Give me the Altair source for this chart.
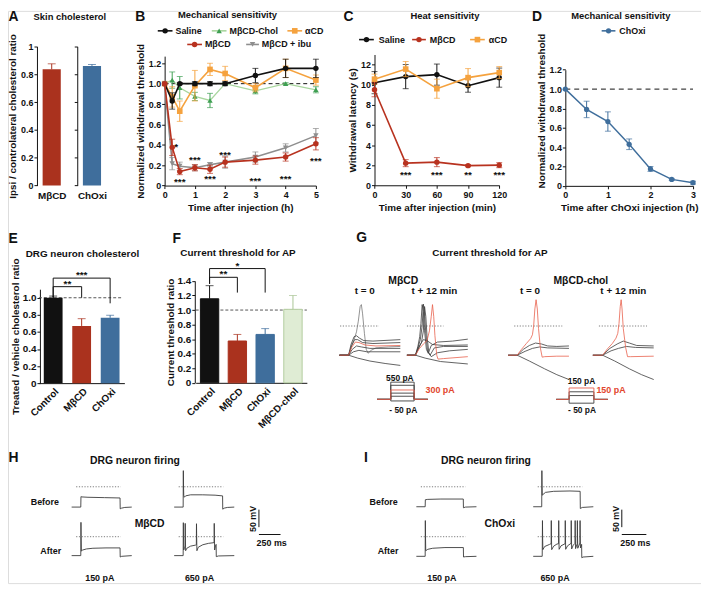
import altair as alt
import pandas as pd

FONT = "Liberation Sans"
W, H = 700, 578
K = "#111111"
RED = "#B8321F"
RED_BAR = "#AA321E"
BLUE = "#3F6E9C"
ORANGE = "#F5A23E"
GREEN = "#3E9F52"
GREEN_LINE = "#A8D69E"
GRAY = "#8E8E8E"
LG_FILL = "#DFECD4"
LG_STROKE = "#B2CC9E"
LG_ERR = "#A9C596"
TR = "#3A3A3A"
TR_GRAY = "#777777"
TR_RED = "#E8604C"
LBL_RED = "#E2462E"

# ---------------- values ----------------
# A  skin cholesterol
a_groups = ["MβCD", "ChOxi"]
a_mean = [0.835, 0.86]
a_err = [0.04, 0.01]

# B  mechanical sensitivity (h)
b_time = [0, 0.25, 0.5, 1, 1.5, 2, 3, 4, 5]
b_saline = [1.00, 0.83, 1.00, 1.00, 1.00, 1.00, 1.08, 1.15, 1.15]
b_saline_err = [0.00, 0.08, 0.01, 0.02, 0.02, 0.02, 0.07, 0.09, 0.09]
b_chol = [1.00, 1.035, 0.96, 0.875, 0.835, 1.00, 0.93, 1.00, 0.94]
b_chol_err = [0.00, 0.08, 0.11, 0.04, 0.07, 0.01, 0.03, 0.01, 0.03]
b_acd = [1.00, 0.87, 0.73, 0.98, 1.14, 1.10, 0.96, 1.15, 1.035]
b_acd_err = [0.00, 0.10, 0.10, 0.15, 0.06, 0.07, 0.04, 0.09, 0.05]
b_mbcd = [1.00, 0.375, 0.137, 0.175, 0.16, 0.23, 0.25, 0.28, 0.41]
b_mbcd_err = [0.00, 0.08, 0.03, 0.03, 0.04, 0.05, 0.04, 0.04, 0.06]
b_ibu = [1.00, 0.215, 0.19, 0.175, 0.205, 0.23, 0.28, 0.37, 0.49]
b_ibu_err = [0.00, 0.06, 0.04, 0.03, 0.02, 0.06, 0.05, 0.04, 0.07]
b_star_text = ["*", "***", "***", "***", "***", "***", "***", "***"]
b_star_x = [0.38, 0.5, 1.0, 1.5, 2.0, 3.0, 4.0, 5.0]
b_star_y = [0.41, 0.06, 0.28, 0.09, 0.33, 0.07, 0.09, 0.27]

# C  heat sensitivity (min)
c_time = [0, 30, 60, 90, 120]
c_saline = [10.2, 10.8, 11.0, 9.9, 10.7]
c_saline_err = [1.1, 1.2, 1.05, 0.65, 0.95]
c_mbcd = [9.5, 2.2, 2.3, 1.95, 2.0]
c_mbcd_err = [0.7, 0.35, 0.45, 0.1, 0.25]
c_acd = [10.55, 11.55, 9.6, 10.7, 11.2]
c_acd_err = [0.5, 0.75, 0.95, 0.9, 0.6]
c_star_text = ["***", "***", "**", "***"]
c_star_x = [30, 60, 90, 120]
c_star_y = [1.3, 1.3, 1.3, 1.3]

# D  ChOxi mechanical sensitivity
d_time = [0, 0.5, 1, 1.5, 2, 2.5, 3]
d_choxi = [1.0, 0.79, 0.665, 0.43, 0.175, 0.067, 0.033]
d_err = [0.0, 0.085, 0.1, 0.055, 0.025, 0.01, 0.015]

# E  DRG neuron cholesterol
e_groups = ["Control", "MβCD", "ChOxi"]
e_mean = [1.0, 0.67, 0.765]
e_err = [0.02, 0.085, 0.03]
e_sig = ["**", "***"]
e_sig_to = [1, 2]
e_sig_top = [1.13, 1.23]
e_sig_left = [1.0, 1.0]
e_sig_right = [1.0, 0.935]

# F  current threshold ratio
f_groups = ["Control", "MβCD", "ChOxi", "MβCD-chol"]
f_mean = [1.155, 0.575, 0.665, 1.01]
f_err = [0.18, 0.09, 0.08, 0.19]
f_sig = ["**", "*"]
f_sig_to = [1, 2]
f_sig_top = [1.45, 1.57]
f_sig_left = [1.36, 1.36]
f_sig_right = [1.24, 1.24]

# G  action potential traces (ms, mV)
g1_spike = [(0, -60), (15, -60), (19, -45), (24, -28), (28, -12), (31, 10), (34, 40), (36, 44), (38, 25),
            (41, -15), (44, -48), (47, -56), (52, -50), (60, -45), (80, -43), (100, -42)]
g1_b1 = [(0, -60), (15, -60), (19, -38), (24, -22), (28, -20), (33, -25), (40, -30), (55, -31), (100, -28)]
g1_b2 = [(0, -60), (15, -60), (20, -40), (25, -28), (30, -28), (38, -34), (55, -36), (100, -34)]
g1_red = [(0, -60), (15, -60), (20, -44), (26, -33), (32, -34), (42, -39), (60, -41), (100, -40)]
g1_b3 = [(0, -60), (15, -60), (21, -48), (28, -41), (36, -43), (50, -46), (100, -46)]
g1_b4 = [(0, -60), (15, -60), (23, -53), (32, -50), (45, -53), (100, -53)]
g1_hyp = [(0, -60), (15, -60), (30, -66), (50, -72), (75, -77), (100, -81)]

g2_s1 = [(0, -60), (14, -60), (18, -42), (21, -22), (23, 5), (25, 44), (27, 30), (29, -10), (32, -48),
         (35, -56), (40, -40), (50, -33), (75, -31), (100, -27)]
g2_s2 = [(0, -60), (14, -60), (18, -45), (22, -28), (25, 0), (27, 45), (29, 25), (31, -15), (34, -52),
         (38, -60), (45, -45), (60, -42), (100, -42)]
g2_s3 = [(0, -60), (14, -60), (19, -47), (24, -33), (27, -10), (29, 40), (31, 20), (33, -20), (36, -55),
         (40, -63), (50, -55), (70, -51), (100, -48)]
g2_b = [(0, -60), (14, -60), (20, -42), (27, -28), (33, -30), (42, -38), (60, -40), (100, -39)]
g2_hyp = [(0, -60), (14, -60), (30, -66), (55, -73), (100, -78)]
g2_red = [(0, -60), (14, -60), (20, -47), (27, -37), (33, -30), (37, -10), (40, 20), (42, 44), (44, 20),
          (46, -20), (49, -60), (51, -68), (60, -67), (100, -63)]

g3_b1 = [(0, -60), (15, -60), (25, -48), (35, -40), (45, -35), (55, -37), (65, -41), (80, -42), (100, -41)]
g3_b2 = [(0, -60), (15, -60), (28, -52), (40, -46), (52, -43), (65, -45), (100, -46)]
g3_hyp = [(0, -60), (15, -60), (35, -72), (60, -88), (80, -100), (100, -110)]
g3_red = [(0, -60), (15, -60), (22, -48), (30, -36), (37, -26), (40, -18), (42, 0), (44, 35), (46, 54),
          (48, 35), (50, -5), (53, -45), (56, -64), (60, -63), (80, -62), (100, -62)]

g4_b1 = [(0, -60), (16, -60), (28, -46), (40, -37), (50, -31), (60, -35), (72, -40), (100, -41)]
g4_b2 = [(0, -60), (16, -60), (30, -51), (42, -46), (55, -42), (70, -44), (100, -45)]
g4_hyp = [(0, -60), (16, -60), (36, -72), (60, -88), (80, -100), (100, -110)]
g4_red = [(0, -60), (16, -60), (24, -47), (32, -36), (38, -25), (41, -15), (43, 5), (45, 40), (46.5, 54),
          (48, 35), (50, -5), (54, -45), (57, -63), (62, -63), (100, -62)]

g_dotted = [(1, 65), (0, 60), (10, 89), (10, 89)]
g_mbcd_steps = [550, 450, 300, 200, 100, -50]
g_mbcd_red = 300
g_chol_steps = [150, 100, 50, -50]
g_chol_red = 150

# H / I  firing traces (ms, mV)
h_b150 = [(0, -58), (112, -58), (114, -28), (125, -29), (200, -30), (400, -31), (592, -32), (594, -63),
          (610, -61), (650, -59), (735, -58)]
h_b650 = [(0, -58), (110, -58), (111, 0), (112, 46), (114, 5), (117, -24), (123, -30), (140, -26), (200, -23),
          (350, -23), (500, -24), (592, -26), (594, -64), (612, -61), (650, -59), (735, -58)]
h_a150 = [(0, -54), (112, -54), (113, 0), (114, 41), (116, 0), (119, -41), (135, -38), (180, -35), (260, -33),
          (420, -32), (592, -32), (594, -58), (612, -56), (735, -54)]
h_a650 = [(0, -54), (110, -54), (111, 0), (112, 40), (114, 0), (117, -38), (126, -31), (133, -27), (134, 5),
          (135, 38), (137, 0), (140, -40), (155, -33), (200, -27), (262, -24), (271, -23), (272, 10), (273, 37),
          (275, 0), (278, -40), (295, -30), (350, -23), (420, -19), (488, -17), (489, 5), (490, 38), (492, 0),
          (495, -38), (505, -26), (513, -22), (515, -57), (540, -55), (735, -54)]
i_b150 = [(0, -57), (108, -57), (110, -37), (140, -36), (300, -35), (574, -35), (576, -60), (600, -58),
          (735, -57)]
i_b650 = [(0, -57), (104, -57), (105, 0), (106, 46), (108, 5), (111, -24), (120, -22), (150, -16), (250, -13),
          (450, -12), (574, -13), (576, -62), (600, -59), (735, -57)]
i_a150 = [(0, -56), (108, -56), (109, 0), (110, 46), (112, 0), (115, -40), (140, -36), (200, -33), (350, -31),
          (575, -31), (577, -58), (600, -57), (735, -56)]
i_a650 = [(0, -56), (110, -56), (112, 0), (113, 46), (115, 0), (118, -37), (140, -28), (200, -22), (219, -20),
          (221, 46), (223, 0), (226, -37), (250, -27), (290, -21), (310, -20), (312, 46), (314, 0), (317, -36),
          (340, -26), (390, -20), (392, 46), (394, 0), (397, -36), (420, -26), (463, -19), (465, 46), (467, 0),
          (470, -35), (490, -24), (511, -19), (513, 46), (515, 0), (518, -34), (538, -20), (540, 46), (542, 0),
          (545, -33), (571, -18), (573, 46), (575, 0), (578, -32), (592, -22), (594, -60), (610, -58),
          (735, -56)]
hi_dotted = (55, 600)
scalebar_mv = 50
scalebar_ms = 250


# ---------------- helpers ----------------
def X(p):
    return round((p - 2.5) * 0.992, 2)


def Y(p):
    return round((p - 3.5) * 0.983, 2)


def lin(domain, r0, r1):
    return alt.Scale(domain=domain, range=[r0, r1], nice=False, zero=False)


ONE = pd.DataFrame({"_": [0]})
AX = dict(grid=False, domainColor=K, tickColor=K, domainWidth=1, tickWidth=1, labelFont=FONT,
          labelFontWeight="bold", labelColor=K, titleFont=FONT, titleFontWeight="bold", titleColor=K,
          titleFontSize=10, labelOverlap=False, labelFlush=False)
DEC = "datum.value == 0 ? '0' : format(datum.value, '.1f')"
GFMT = "format(datum.value, '~g')"


def yaxis(xp, values, title=None, labels=True, size=9, fmt=DEC, tpad=3, title_yp=None):
    kw = dict(AX)
    kw.update(orient="left", offset=-X(xp), values=values, tickSize=3, labelFontSize=size, labelPadding=1,
              titlePadding=tpad, labels=labels, title=title)
    if fmt:
        kw["labelExpr"] = fmt
    if title_yp is not None:
        kw["titleY"] = Y(title_yp)
    return alt.Axis(**kw)


def xaxis(yp, values, title=None, size=9, fmt=None, angle=None, ticks=True, domain=True, lpad=2, tpad=3):
    kw = dict(AX)
    kw.update(orient="bottom", offset=Y(yp) - H, values=values, ticks=ticks, domain=domain,
              labelFontSize=size, labelPadding=lpad, titlePadding=tpad, title=title)
    kw["tickSize"] = 3 if ticks else 0
    if fmt:
        kw["labelExpr"] = fmt
    if angle is not None:
        kw.update(labelAngle=angle, labelAlign="right", labelBaseline="top")
    return alt.Axis(**kw)


def txt(s, xp, yp, size=9.5, color=K, align="center", baseline="middle", angle=None, weight="bold"):
    kw = dict(text=s, font=FONT, fontSize=size, fontWeight=weight, color=color, align=align, baseline=baseline)
    if angle is not None:
        kw["angle"] = angle
    return alt.Chart(ONE).mark_text(**kw).encode(x=alt.value(X(xp)), y=alt.value(Y(yp)))


def qx(f, s, a=None):
    return alt.X(f, type="quantitative", scale=s, axis=a)


def qy(f, s, a=None):
    return alt.Y(f, type="quantitative", scale=s, axis=a)


def series(xv, yv, ev, xs, ys, color, shape, line_color=None, size=30, lw=1.6, cap=6):
    df = pd.DataFrame({"x": xv, "y": yv, "e": ev})
    df["lo"] = df["y"] - df["e"]
    df["hi"] = df["y"] + df["e"]
    dfe = df[df["e"] > 0]
    out = [alt.Chart(df).mark_line(color=line_color or color, strokeWidth=lw).encode(x=qx("x", xs), y=qy("y", ys)),
           alt.Chart(dfe).mark_rule(color=color, strokeWidth=1).encode(x=qx("x", xs), y=qy("lo", ys), y2="hi:Q")]
    for f in ("lo", "hi"):
        out.append(alt.Chart(dfe).mark_tick(color=color, orient="horizontal", size=cap, thickness=1)
                   .encode(x=qx("x", xs), y=qy(f, ys)))
    out.append(alt.Chart(df).mark_point(filled=True, opacity=1, shape=shape, size=size, color=color)
               .encode(x=qx("x", xs), y=qy("y", ys)))
    return out


def hrule(x0, x1, yv, xs, ys, xa=None, ya=None, color=K, dash=(4, 3), width=1):
    df = pd.DataFrame({"x": [x0], "x2": [x1], "y": [yv]})
    return alt.Chart(df).mark_rule(color=color, strokeDash=list(dash), strokeWidth=width).encode(
        x=qx("x", xs, xa), x2="x2:Q", y=qy("y", ys, ya))


def stars(texts, xv, yv, xs, ys, size=10):
    df = pd.DataFrame({"t": texts, "x": xv, "y": yv})
    return alt.Chart(df).mark_text(font=FONT, fontWeight="bold", fontSize=size, color=K, dy=3).encode(
        x=qx("x", xs), y=qy("y", ys), text="t:N")


def bars(groups, means, errs, colors, xs, ys, xa, ya, strokes=None, errcolors=None, cap=8, half=0.33):
    out = []
    for i, (m, e) in enumerate(zip(means, errs)):
        df = pd.DataFrame({"x0": [i - half], "x1": [i + half], "xc": [i], "m": [m], "z": [0], "hi": [m + e]})
        kw = dict(color=colors[i])
        if strokes:
            kw.update(stroke=strokes[i], strokeWidth=1)
        out.append(alt.Chart(df).mark_bar(**kw).encode(
            x=qx("x0", xs, xa if i == 0 else None), x2="x1:Q", y=qy("m", ys, ya if i == 0 else None), y2="z:Q"))
        ec = errcolors[i] if errcolors else colors[i]
        out.append(alt.Chart(df).mark_rule(color=ec, strokeWidth=1).encode(x=qx("xc", xs), y=qy("m", ys), y2="hi:Q"))
        out.append(alt.Chart(df).mark_tick(color=ec, orient="horizontal", size=cap, thickness=1).encode(
            x=qx("xc", xs), y=qy("hi", ys)))
    return out


def brackets(texts, to, top, left, right, xs, ys, tdy):
    out = []
    for t, j, tp, lf, rt in zip(texts, to, top, left, right):
        df = pd.DataFrame({"x": [0, 0, j, j], "y": [lf, tp, tp, rt], "i": [0, 1, 2, 3]})
        out.append(alt.Chart(df).mark_line(color=K, strokeWidth=1).encode(x=qx("x", xs), y=qy("y", ys), order="i:Q"))
        tdf = pd.DataFrame({"x": [j / 2], "y": [tp], "t": [t]})
        out.append(alt.Chart(tdf).mark_text(font=FONT, fontWeight="bold", fontSize=10, color=K, baseline="bottom",
                                            dy=tdy).encode(x=qx("x", xs), y=qy("y", ys), text="t:N"))
    return out


def trace(pts, xs, ys, color, width=0.8):
    df = pd.DataFrame(pts, columns=["t", "v"])
    df["i"] = range(len(df))
    return alt.Chart(df).mark_line(color=color, strokeWidth=width).encode(
        x=qx("t", xs), y=qy("v", ys), order="i:Q")


def dotted(t0, t1, xs, ys):
    df = pd.DataFrame({"t": [t0], "t2": [t1], "v": [0]})
    return alt.Chart(df).mark_rule(color="#6E6E6E", strokeDash=[1.2, 1.6], strokeWidth=0.9).encode(
        x=qx("t", xs), x2="t2:Q", y=qy("v", ys))


def legend_item(x1, x2, yp, color, shape, label, tx, line_color=None, size=30):
    ln = alt.Chart(ONE).mark_rule(color=line_color or color, strokeWidth=1.6).encode(
        x=alt.value(X(x1)), x2=alt.value(X(x2)), y=alt.value(Y(yp)))
    pt = alt.Chart(ONE).mark_point(filled=True, opacity=1, shape=shape, size=size, color=color).encode(
        x=alt.value(X((x1 + x2) / 2)), y=alt.value(Y(yp)))
    return [ln, pt, txt(label, tx, yp, 9, align="left")]


layers = []

# ---------------- Panel A ----------------
a_ys = lin([0, 1], Y(183), Y(40))
a_vals = [0, 0.2, 0.4, 0.6, 0.8, 1]
for k, (x0, x1, axp) in enumerate([(33, 61, 32), (74, 102, 73)]):
    xs = lin([-0.5, 0.5], X(x0), X(x1))
    xa = xaxis(183, [0], None, size=10, fmt="'" + a_groups[k] + "'", ticks=False, domain=False, lpad=5)
    ya = yaxis(axp, a_vals, "Ipsi / controlateral cholesterol ratio" if k == 0 else None,
               labels=(k == 0), fmt=GFMT)
    layers += bars([a_groups[k]], [a_mean[k]], [a_err[k]], [[RED_BAR, BLUE][k]], xs, a_ys, xa, ya)

# ---------------- Panel B ----------------
bxs = lin([0, 5], X(162), X(316))
bys = lin([0, 1.27], Y(183), Y(50))
layers.append(hrule(0, 5, 1.0, bxs, bys,
                    xaxis(183, [0, 1, 2, 3, 4, 5], "Time after injection (h)"),
                    yaxis(162, [0, 0.2, 0.4, 0.6, 0.8, 1.0, 1.2], "Normalized withdrawal threshold")))
layers += series(b_time, b_chol, b_chol_err, bxs, bys, GREEN, "triangle-up", line_color=GREEN_LINE, lw=1.3)
layers += series(b_time, b_acd, b_acd_err, bxs, bys, ORANGE, "square", size=32)
layers += series(b_time, b_saline, b_saline_err, bxs, bys, K, "circle")
layers += series(b_time, b_ibu, b_ibu_err, bxs, bys, GRAY, "triangle-down")
layers += series(b_time, b_mbcd, b_mbcd_err, bxs, bys, RED, "circle")
layers.append(stars(b_star_text, b_star_x, b_star_y, bxs, bys))

# ---------------- Panel C ----------------
cxs = lin([0, 120], X(375.7), X(502.7))
cys = lin([0, 13], Y(182.7), Y(48.3))
layers.append(alt.Chart(pd.DataFrame({"x": [0], "y": [0]})).mark_point(opacity=0).encode(
    x=qx("x", cxs, xaxis(182.7, [0, 30, 60, 90, 120], "Time after injection (min)")),
    y=qy("y", cys, yaxis(375.7, [0, 2, 4, 6, 8, 10, 12], "Withdrawal latency (s)", fmt=None))))
layers += series(c_time, c_saline, c_saline_err, cxs, cys, K, "circle")
layers += series(c_time, c_acd, c_acd_err, cxs, cys, ORANGE, "square", size=32)
layers += series(c_time, c_mbcd, c_mbcd_err, cxs, cys, RED, "circle")
layers.append(stars(c_star_text, c_star_x, c_star_y, cxs, cys))

# ---------------- Panel D ----------------
dxs = lin([0, 3], X(570), X(700))
dys = lin([0, 1.2], Y(183.3), Y(64))
layers.append(hrule(0, 3, 1.0, dxs, dys,
                    xaxis(183.3, [0, 1, 2, 3], "Time after ChOxi injection (h)"),
                    yaxis(570, [0, 0.2, 0.4, 0.6, 0.8, 1.0, 1.2], "Normalized  withdrawal threshold",
                          title_yp=106),
                    dash=(5, 4)))
layers += series(d_time, d_choxi, d_err, dxs, dys, BLUE, "circle", size=28, lw=1.5)

# ---------------- Panel E ----------------
exs = lin([-0.5, 2.5], X(34), X(121))
eys = lin([0, 1.1], Y(386), Y(289.5))
e_names = "[" + ",".join("'" + g + "'" for g in e_groups) + "][datum.value]"
layers.append(hrule(-0.5, 2.4, 1.0, exs, eys, color="#555555", dash=(3, 2)))
layers += bars(e_groups, e_mean, e_err, [K, RED_BAR, BLUE], exs, eys,
               xaxis(386, [0, 1, 2], None, size=10, fmt=e_names, angle=315, ticks=False, lpad=3),
               yaxis(35, [0, 0.2, 0.4, 0.6, 0.8, 1.0], "Treated / vehicle cholesterol ratio", size=10, tpad=2))
layers += brackets(e_sig, e_sig_to, e_sig_top, e_sig_left, e_sig_right, exs, eys, 2)

# ---------------- Panel F ----------------
fxs = lin([-0.5, 3.5], X(193.6), X(306.8))
fys = lin([0, 1.4], Y(385.7), Y(281))
f_names = "[" + ",".join("'" + g + "'" for g in f_groups) + "][datum.value]"
layers.append(hrule(-0.5, 3.5, 1.0, fxs, fys, color="#555555", dash=(3, 2)))
layers += bars(f_groups, f_mean, f_err, [K, RED_BAR, BLUE, LG_FILL], fxs, fys,
               xaxis(385.7, [0, 1, 2, 3], None, size=10, fmt=f_names, angle=315, ticks=False, lpad=3),
               yaxis(192.7, [0, 0.2, 0.4, 0.6, 0.8, 1.0, 1.2, 1.4], "Current threshold ratio", size=10, tpad=2),
               strokes=[K, RED_BAR, BLUE, LG_STROKE], errcolors=[K, RED_BAR, BLUE, LG_ERR])
layers += brackets(f_sig, f_sig_to, f_sig_top, f_sig_left, f_sig_right, fxs, fys, 2)

# ---------------- Panel G ----------------
g_panels = [
    (340.0, [(g1_spike, TR_GRAY), (g1_b1, TR), (g1_b2, TR), (g1_b3, TR), (g1_b4, TR), (g1_hyp, TR), (g1_red, TR_RED)]),
    (408.7, [(g2_b, TR), (g2_hyp, TR), (g2_s1, TR), (g2_s2, TR), (g2_s3, TR), (g2_red, TR_RED)]),
    (511.7, [(g3_b1, TR), (g3_b2, TR), (g3_hyp, TR), (g3_red, TR_RED)]),
    (598.0, [(g4_b1, TR), (g4_b2, TR), (g4_hyp, TR), (g4_red, TR_RED)]),
]
g_ys = lin([-120, 60], Y(387.3), Y(297.3))
for (x0, trs), (d0, d1) in zip(g_panels, g_dotted):
    xs = lin([0, 100], X(x0), X(x0 + 62))
    layers.append(dotted(d0, d1, xs, g_ys))
    layers += [trace(p, xs, g_ys, c) for p, c in trs]


def step_layers(levels, red, t0, t1, xs, ys):
    out = []
    for lv in sorted(levels, key=lambda v: v == red):
        pts = [(0, 0), (t0, 0), (t0, lv), (t1, lv), (t1, 0), (100, 0)]
        out.append(trace(pts, xs, ys, TR_RED if lv == red else TR, 0.9))
    return out


layers += step_layers(g_mbcd_steps, g_mbcd_red, 27, 73,
                      lin([0, 100], X(378.3), X(430)), lin([-50, 550], Y(404.3), Y(385)))
layers += step_layers(g_chol_steps, g_chol_red, 25, 73,
                      lin([0, 100], X(560.7), X(613.3)), lin([-50, 150], Y(406.6), Y(391)))

# ---------------- Panels H and I ----------------
MVPX = 0.36
for x0, zero, pts in [(67.3, 492.5, h_b150), (171.7, 492.5, h_b650), (67.3, 543.8, h_a150), (171.7, 543.8, h_a650),
                      (418.3, 492.5, i_b150), (537.3, 492.5, i_b650), (418.3, 543.8, i_a150),
                      (537.3, 543.8, i_a650)]:
    xs = lin([0, 735], X(x0), X(x0 + 61.2))
    ys = lin([-80, 60], Y(zero + 80 * MVPX), Y(zero - 60 * MVPX))
    layers += [dotted(hi_dotted[0], hi_dotted[1], xs, ys), trace(pts, xs, ys, TR, 0.9)]

for xb, wb in [(258.0, 22.0), (627.5, 25.0)]:
    xs = lin([0, scalebar_ms], X(xb), X(xb + wb))
    ys = lin([0, scalebar_mv], Y(534), Y(516))
    sb = pd.DataFrame({"t": [0, 0], "t2": [0, scalebar_ms], "v": [0, -21], "v2": [scalebar_mv, -21]})
    layers.append(alt.Chart(sb).mark_rule(color=K, strokeWidth=1).encode(
        x=qx("t", xs), x2="t2:Q", y=qy("v", ys), y2="v2:Q"))

# ---------------- legends ----------------
layers += legend_item(155, 170, 24, K, "circle", "Saline", 173)
layers += legend_item(210, 225, 24, GREEN, "triangle-up", "MβCD-Chol", 228, line_color=GREEN_LINE)
layers += legend_item(287, 302, 24, ORANGE, "square", "αCD", 305, size=32)
layers += legend_item(185, 200, 38, RED, "circle", "MβCD", 203)
layers += legend_item(245, 258, 38, GRAY, "triangle-down", "MβCD + ibu", 261)
layers += legend_item(360, 375, 33, K, "circle", "Saline", 380)
layers += legend_item(414, 428, 33, RED, "circle", "MβCD", 432)
layers += legend_item(473, 488, 33, ORANGE, "square", "αCD", 492, size=32)
layers += legend_item(607, 621, 24, BLUE, "circle", "ChOxi", 625, size=28)

# ---------------- text annotations ----------------
for s, xp, yp in [("A", 3, 14), ("B", 132, 14), ("C", 344, 14), ("D", 536, 14), ("E", 3, 241.7),
                  ("F", 170, 241.7), ("G", 357, 240.7), ("H", 3, 467), ("I", 365, 467)]:
    layers.append(txt(s, xp, yp, 14, align="left", baseline="alphabetic"))

for s, xp, yp, sz in [("Skin cholesterol", 65.5, 9.3, 9.5), ("Mechanical sensitivity", 226, 8, 9.5),
                      ("Heat sensitivity", 447.5, 8.3, 9.5), ("Mechanical sensitivity", 626.5, 8.3, 9.5),
                      ("DRG neuron cholesterol", 78.3, 253.3, 10), ("Current  threshold for AP", 236.7, 252.7, 10),
                      ("Current  threshold for AP", 493.3, 252.7, 10), ("DRG neuron firing", 131.7, 466, 10.5),
                      ("DRG neuron firing", 489.2, 466, 10.5)]:
    layers.append(txt(s, xp, yp, sz))

for s, xp, yp, sz, col in [("MβCD", 405, 281, 10.5, K), ("MβCD-chol", 585.8, 281, 10.5, K),
                           ("t = 0", 365.8, 291.7, 10, K), ("t + 12 min", 436.7, 291.7, 10, K),
                           ("t = 0", 534, 291.7, 10, K), ("t + 12 min", 629, 291.7, 10, K),
                           ("550 pA", 401.5, 380.5, 8.5, K), ("300 pA", 442.5, 393.3, 9, LBL_RED),
                           ("- 50 pA", 405, 413.3, 8.5, K), ("150 pA", 586.5, 384.3, 8.5, K),
                           ("150 pA", 616.5, 393.3, 9, LBL_RED), ("- 50 pA", 587, 413.3, 8.5, K),
                           ("Before", 40, 508.3, 9, K), ("After", 46, 558.3, 9, K), ("MβCD", 146.7, 530.7, 10.5, K),
                           ("150 pA", 96, 586.7, 9, K), ("650 pA", 197.5, 586.7, 9, K),
                           ("250 ms", 271, 550.7, 9, K),
                           ("Before", 385, 508.3, 9, K), ("After", 389.5, 558.3, 9, K),
                           ("ChOxi", 503.3, 530.7, 10.5, K), ("150 pA", 444.2, 586.7, 9, K),
                           ("650 pA", 559.5, 586.7, 9, K), ("250 ms", 641.3, 550.7, 9, K)]:
    layers.append(txt(s, xp, yp, sz, color=col))

layers.append(txt("50 mV", 252.3, 525.5, 9, angle=270))
layers.append(txt("50 mV", 621.7, 525.5, 9, angle=270))

chart = alt.layer(*layers).resolve_scale(x="independent", y="independent").properties(
    width=W, height=H, padding=0, autosize=alt.AutoSizeParams(type="none")
).configure_view(stroke=None).configure(font=FONT)

chart.save("out.html", embed_options={"renderer": "svg", "actions": False})
